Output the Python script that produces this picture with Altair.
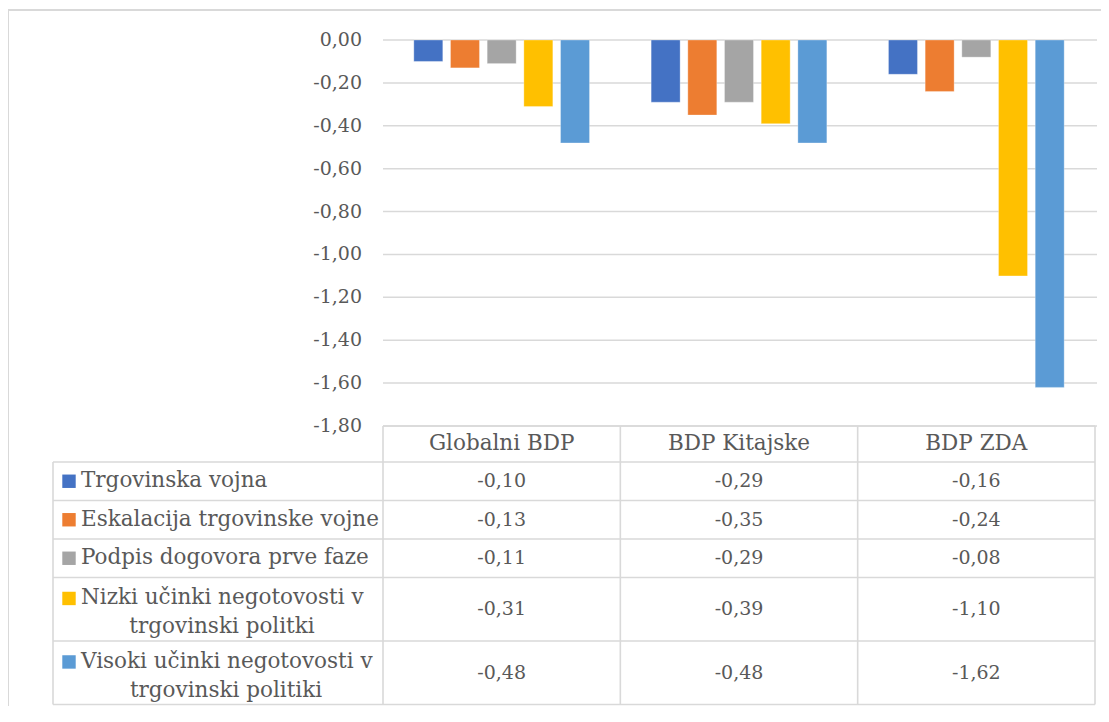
import altair as alt
import pandas as pd

# ---------------- data ----------------
categories = ["Globalni BDP", "BDP Kitajske", "BDP ZDA"]
series_names = [
    "Trgovinska vojna",
    "Eskalacija trgovinske vojne",
    "Podpis dogovora prve faze",
    "Nizki učinki negotovosti v trgovinski politki",
    "Visoki učinki negotovosti v trgovinski politiki",
]
series_lines = [
    ["Trgovinska vojna"],
    ["Eskalacija trgovinske vojne"],
    ["Podpis dogovora prve faze"],
    ["Nizki učinki negotovosti v", "trgovinski politki"],
    ["Visoki učinki negotovosti v", "trgovinski politiki"],
]
series_colors = ["#4472C4", "#ED7D31", "#A5A5A5", "#FFC000", "#5B9BD5"]

trgovinska_vojna = [-0.10, -0.29, -0.16]
eskalacija = [-0.13, -0.35, -0.24]
podpis = [-0.11, -0.29, -0.08]
nizki = [-0.31, -0.39, -1.10]
visoki = [-0.48, -0.48, -1.62]
series_values = [trgovinska_vojna, eskalacija, podpis, nizki, visoki]

tick_values = [0.0, -0.2, -0.4, -0.6, -0.8, -1.0, -1.2, -1.4, -1.6, -1.8]
tick_labels = ["0,00", "-0,20", "-0,40", "-0,60", "-0,80", "-1,00",
               "-1,20", "-1,40", "-1,60", "-1,80"]

# ---------------- style / layout ----------------
FONT = "DejaVu Serif"
FS_TXT = 21.5   # words
FS_NUM = 19     # numbers
TXT = "#595959"
GRID = "#D9D9D9"

W, H = 1043, 666
PX0 = 330
PY1 = 386
HEADER_BOTTOM = 422
ROW_H = {1: 38.5, 2: 63.5}
WRAP_CENTER = {3: 169, 4: 173}
SW_X, LBL_X = 16, 28

ydomain = [-1.8, 0]
yscale = alt.Scale(domain=ydomain, range=[PY1, 0], nice=False)
xscale = alt.Scale(domain=categories, range=[PX0, W - 1], paddingInner=0, paddingOuter=0)

bar_rows = []
for s, vals in zip(series_names, series_values):
    for c, v in zip(categories, vals):
        bar_rows.append({"category": c, "series": s, "value": v})
bars_df = pd.DataFrame(bar_rows)

ticks_df = pd.DataFrame({"tick": tick_values, "label": tick_labels})

row_tops, row_bots = [], []
y = HEADER_BOTTOM
for lines in series_lines:
    h = ROW_H[len(lines)]
    row_tops.append(y)
    row_bots.append(y + h)
    y += h
TABLE_BOTTOM = y

val_rows, lbl1_rows, lbl2_rows, sw_rows = [], [], [], []
for i, (s, vals, lines) in enumerate(zip(series_names, series_values, series_lines)):
    t, b = row_tops[i], row_bots[i]
    h = b - t
    mid = (t + b) / 2
    for c, v in zip(categories, vals):
        val_rows.append({"category": c, "ty": mid,
                         "txt": f"{v:.2f}".replace(".", ",")})
    if len(lines) == 1:
        l1y = mid
    else:
        l1y = t + h * 0.33
        lbl2_rows.append({"tx": WRAP_CENTER[i], "ty": t + h * 0.78, "txt": lines[1]})
    lbl1_rows.append({"tx": LBL_X, "ty": l1y, "txt": lines[0]})
    sw_rows.append({"tx": SW_X, "ty": l1y, "series": s})

val_df = pd.DataFrame(val_rows)
lbl1_df = pd.DataFrame(lbl1_rows)
lbl2_df = pd.DataFrame(lbl2_rows)
sw_df = pd.DataFrame(sw_rows)
head_df = pd.DataFrame({"category": categories, "ty": [(PY1 + HEADER_BOTTOM) / 2] * 3})

seg = [{"x1": PX0, "x2": W - 1, "y1": PY1, "y2": PY1},
       {"x1": 0, "x2": W - 1, "y1": HEADER_BOTTOM, "y2": HEADER_BOTTOM}]
for b in row_bots:
    seg.append({"x1": 0, "x2": W - 1, "y1": b, "y2": b})
seg.append({"x1": 0, "x2": 0, "y1": HEADER_BOTTOM, "y2": TABLE_BOTTOM})
colw = (W - 1 - PX0) / 3
for k in range(4):
    xx = PX0 + k * colw
    seg.append({"x1": xx, "x2": xx, "y1": PY1, "y2": TABLE_BOTTOM})
seg_df = pd.DataFrame(seg)

color_enc = alt.Color("series:N", scale=alt.Scale(domain=series_names, range=series_colors),
                      legend=None)

border = alt.Chart(pd.DataFrame({"a": [0]})).mark_rect(
    fill="transparent", stroke=GRID, strokeWidth=2
).encode(x=alt.value(-45), x2=alt.value(W + 40), y=alt.value(-30), y2=alt.value(H + 40))

grid = alt.Chart(ticks_df).mark_rule(color=GRID, strokeWidth=1.5).encode(
    y=alt.Y("tick:Q", scale=yscale, axis=None),
    x=alt.value(PX0), x2=alt.value(W + 1),
)

ylabels = alt.Chart(ticks_df).mark_text(
    align="right", baseline="middle", font=FONT, fontSize=FS_NUM, color=TXT
).encode(
    y=alt.Y("tick:Q", scale=yscale, axis=None),
    x=alt.value(PX0 - 21),
    text="label:N",
)

bars = alt.Chart(bars_df).mark_bar(stroke="white", strokeWidth=0.6, strokeOpacity=0.5).encode(
    x=alt.X("category:N", scale=xscale, axis=None, sort=categories),
    xOffset=alt.XOffset("series:N", sort=series_names,
                        scale=alt.Scale(domain=series_names, paddingInner=0.21, paddingOuter=0.84)),
    y=alt.Y("value:Q", scale=yscale, axis=None),
    color=color_enc,
)

lines = alt.Chart(seg_df).mark_rule(color=GRID, strokeWidth=1.6).encode(
    x=alt.X("x1:Q", scale=None), x2="x2:Q",
    y=alt.Y("y1:Q", scale=None), y2="y2:Q",
)

header = alt.Chart(head_df).mark_text(
    align="center", baseline="middle", font=FONT, fontSize=FS_TXT, color=TXT
).encode(
    x=alt.X("category:N", scale=xscale, axis=None, sort=categories),
    y=alt.Y("ty:Q", scale=None),
    text="category:N",
)

values = alt.Chart(val_df).mark_text(
    align="center", baseline="middle", font=FONT, fontSize=FS_NUM, color=TXT
).encode(
    x=alt.X("category:N", scale=xscale, axis=None, sort=categories),
    y=alt.Y("ty:Q", scale=None),
    text="txt:N",
)

lbl1 = alt.Chart(lbl1_df).mark_text(
    align="left", baseline="middle", font=FONT, fontSize=FS_TXT, color=TXT
).encode(x=alt.X("tx:Q", scale=None), y=alt.Y("ty:Q", scale=None), text="txt:N")

lbl2 = alt.Chart(lbl2_df).mark_text(
    align="center", baseline="middle", font=FONT, fontSize=FS_TXT, color=TXT
).encode(x=alt.X("tx:Q", scale=None), y=alt.Y("ty:Q", scale=None), text="txt:N")

swatches = alt.Chart(sw_df).mark_square(size=180, opacity=1).encode(
    x=alt.X("tx:Q", scale=None), y=alt.Y("ty:Q", scale=None), color=color_enc,
)

chart = alt.layer(
    border, grid, ylabels, bars, lines, header, values, lbl1, lbl2, swatches
).resolve_scale(
    x="independent", y="independent"
).properties(
    width=W, height=H,
    autosize=alt.AutoSizeParams(type="none"),
    padding={"left": 45, "top": 32, "right": 5, "bottom": 0},
    background="white",
).configure_view(strokeWidth=0)

chart.save("out.html", embed_options={"renderer": "svg", "actions": False})
